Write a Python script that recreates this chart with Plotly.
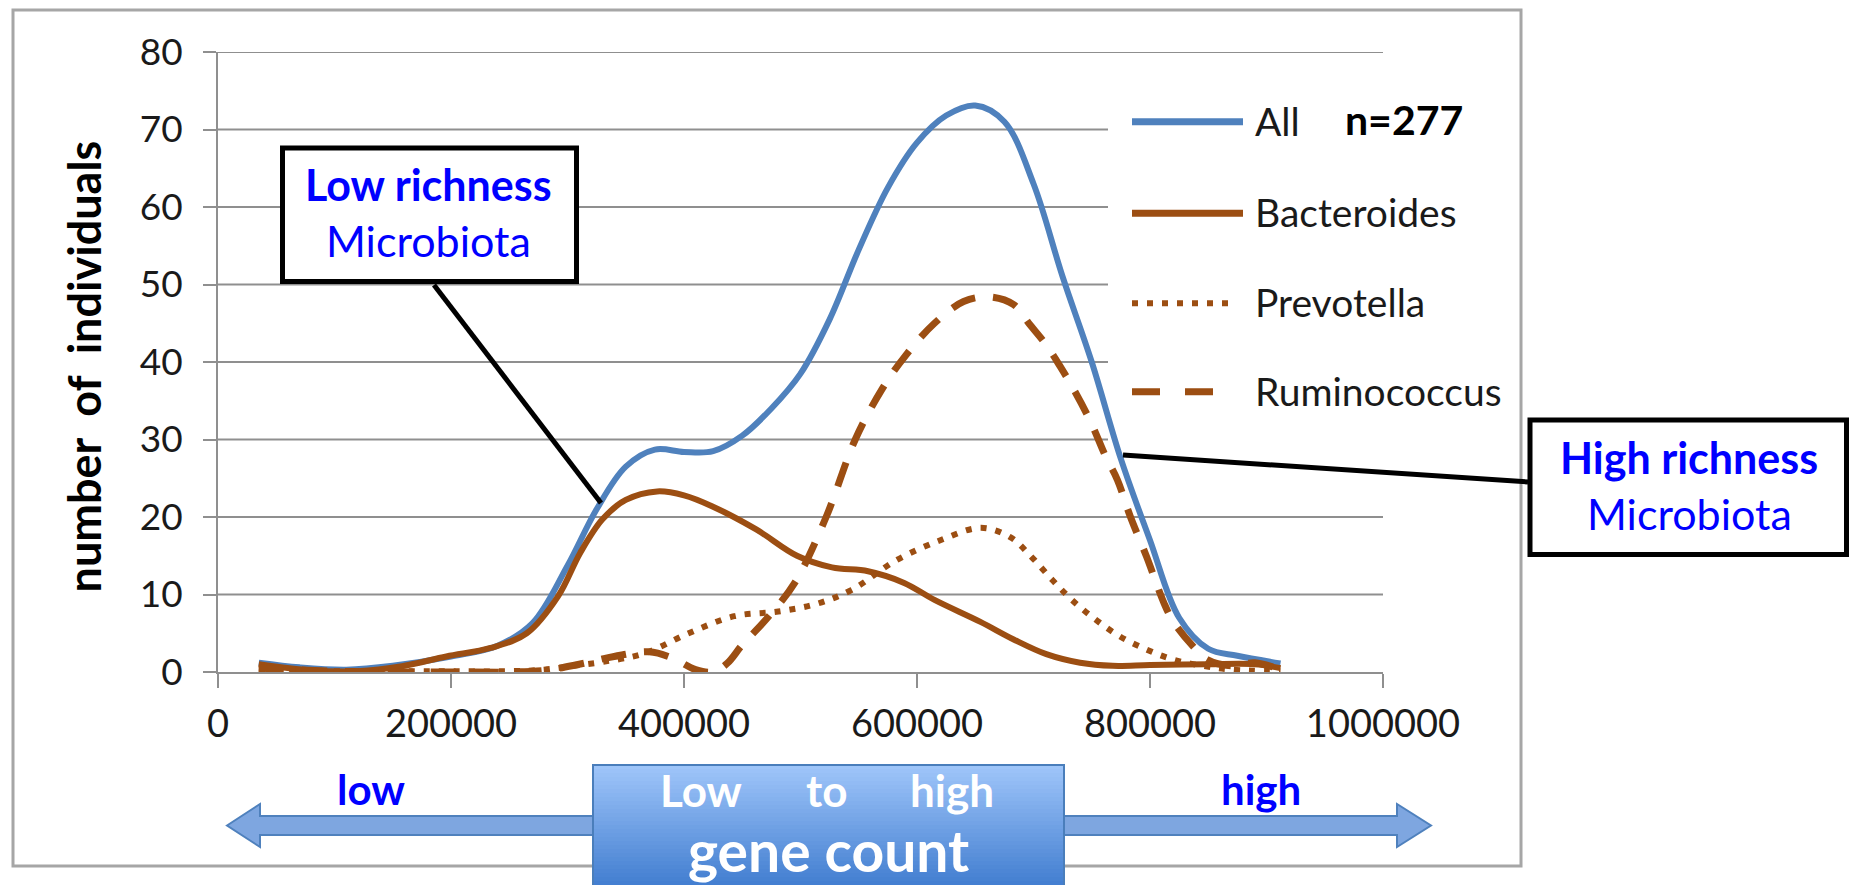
import plotly.graph_objects as go

# ---- data: number of individuals by gene count ----
all_x = [35000, 70000, 110000, 150000, 200000, 240000, 270000, 300000, 325000, 350000,
         375000, 400000, 425000, 450000, 475000, 500000, 525000, 550000, 575000, 600000,
         625000, 650000, 675000, 700000, 725000, 750000, 775000, 800000, 825000, 850000,
         875000, 912000]
all_y = [1.2, 0.6, 0.3, 0.8, 2.0, 3.4, 6.3, 13.7, 21.0, 26.5,
         28.7, 28.4, 28.5, 30.5, 34.0, 38.5, 45.5, 54.5, 62.5, 68.3,
         71.8, 73.1, 71.0, 63.0, 51.0, 40.0, 27.5, 17.0, 7.0, 3.0,
         2.1, 1.1]

bact_x = [35000, 80000, 120000, 158000, 196000, 234000, 265000, 292000, 311000, 330000,
          350000, 377000, 400000, 424000, 462000, 497000, 527000, 558000, 589000, 615000,
          654000, 683000, 711000, 740000, 768000, 800000, 850000, 890000, 912000]
bact_y = [1.0, 0.2, 0.1, 0.75, 2.0, 3.1, 5.0, 9.8, 15.4, 19.7,
          22.2, 23.3, 22.8, 21.4, 18.4, 15.0, 13.5, 13.0, 11.5, 9.3,
          6.5, 4.2, 2.3, 1.2, 0.8, 0.9, 1.0, 1.0, 0.5]

prev_x = [35000, 100000, 150000, 200000, 250000, 280000, 303000, 330000, 366000, 404000,
          443000, 481000, 514000, 544000, 582000, 620000, 655000, 680000, 698000, 716000,
          733000, 753000, 774000, 797000, 820000, 845000, 870000, 912000]
prev_y = [0.3, 0.1, 0.1, 0.1, 0.1, 0.3, 0.75, 1.3, 2.4, 5.0,
          7.2, 7.8, 8.8, 10.6, 14.4, 17.0, 18.6, 17.4, 14.9, 11.9,
          9.3, 6.8, 4.6, 2.9, 1.6, 0.8, 0.3, 0.1]

rum_x = [35000, 100000, 150000, 200000, 250000, 280000, 310000, 340000, 370000, 390000,
         410000, 425000, 437000, 450000, 470000, 495000, 522000, 547000, 570000, 590000,
         615000, 640000, 662000, 683000, 697000, 711000, 723000, 734000, 749000, 762000,
         772000, 783000, 797000, 812000, 820000, 837000, 849000, 870000, 890000, 912000]
rum_y = [0.5, 0.1, 0.0, 0.0, 0.0, 0.2, 1.0, 2.0, 2.6, 1.8,
         0.3, 0.0, 1.1, 3.5, 6.7, 11.5, 20.0, 30.0, 36.5, 40.8,
         45.0, 47.8, 48.4, 47.4, 44.8, 42.2, 39.4, 36.6, 32.3, 27.8,
         24.8, 20.1, 14.9, 8.9, 6.5, 3.3, 1.6, 0.8, 1.2, 0.3]

series_names = ["All", "Bacteroides", "Prevotella", "Ruminococcus"]
x_ticks = [0, 200000, 400000, 600000, 800000, 1000000]
y_ticks = [0, 10, 20, 30, 40, 50, 60, 70, 80]
# grid rows that stop short at the legend panel
legend_rows = [30, 40, 50, 60, 70]

# ---- styling ----
BLUE = "#4F81BD"
BROWN = "#9C4E12"
GRID = "#8f8f8f"
FONT = "Lato"
TEXT_BLUE = "#0000FF"

W, H = 1850, 885
ML, MR, MT, MB = 218, 467, 52, 213
PW = W - ML - MR
PH = H - MT - MB


def px(xp):
    return (xp - ML) / PW


def py(yp):
    return (H - MB - yp) / PH


fig = go.Figure()

styles = [
    dict(color=BLUE, width=6),
    dict(color=BROWN, width=6),
    dict(color=BROWN, width=6, dash="6px,9px"),
    dict(color=BROWN, width=7, dash="25px,18px"),
]
for name, xs, ys, st in zip(series_names, [all_x, bact_x, prev_x, rum_x],
                            [all_y, bact_y, prev_y, rum_y], styles):
    fig.add_trace(go.Scatter(
        x=xs, y=ys, name=name, mode="lines",
        line=dict(shape="spline", smoothing=1.0, **st),
        hoverinfo="skip", showlegend=False,
    ))

shapes = []

# horizontal grid lines (drawn under the curves); the legend panel interrupts some
for v in y_ticks[1:]:
    x_end = px(1108) if v in legend_rows else 1.0
    shapes.append(dict(type="line", xref="x domain", yref="y",
                       x0=0, x1=x_end, y0=v, y1=v, layer="below",
                       line=dict(color=GRID, width=2)))

# legend samples
legend_y = [121.7, 213.3, 303.3, 391.7]
sample_styles = [
    dict(color=BLUE, width=7),
    dict(color=BROWN, width=7),
    dict(color=BROWN, width=6, dash="6px,9px"),
    dict(color=BROWN, width=7, dash="28px,25px"),
]
sample_ends = [1243, 1243, 1229, 1214]
for yy, st, xe in zip(legend_y, sample_styles, sample_ends):
    shapes.append(dict(type="line", xref="paper", yref="paper",
                       x0=px(1132), x1=px(xe), y0=py(yy), y1=py(yy), line=st))

# outer frame
shapes.append(dict(type="rect", xref="paper", yref="paper",
                   x0=px(13), x1=px(1521), y0=py(866), y1=py(10),
                   line=dict(color="#a6a6a6", width=3)))

# callout boxes and pointers
shapes.append(dict(type="rect", xref="paper", yref="paper",
                   x0=px(282.5), x1=px(576.5), y0=py(281.5), y1=py(148),
                   fillcolor="white", line=dict(color="black", width=5)))
shapes.append(dict(type="line", xref="paper", yref="paper",
                   x0=px(434), y0=py(285), x1=px(601), y1=py(503),
                   line=dict(color="black", width=5)))
shapes.append(dict(type="rect", xref="paper", yref="paper",
                   x0=px(1530), x1=px(1846.5), y0=py(554.5), y1=py(420),
                   fillcolor="white", line=dict(color="black", width=5)))
shapes.append(dict(type="line", xref="paper", yref="paper",
                   x0=px(1123), y0=py(455), x1=px(1528), y1=py(482),
                   line=dict(color="black", width=5)))

# double-headed arrow under the axis
arrow_pts = [(227, 825.5), (260, 804), (260, 816), (1397, 816), (1397, 804),
             (1431, 825.5), (1397, 847), (1397, 835), (260, 835), (260, 847)]
path = "M " + " L ".join(f"{px(a):.5f},{py(b):.5f}" for a, b in arrow_pts) + " Z"
shapes.append(dict(type="path", xref="paper", yref="paper", path=path,
                   fillcolor="#7EA6E0", line=dict(color="#4F81BD", width=2)))

# gradient box "Low to high / gene count"
top_rgb, bot_rgb = (160, 198, 250), (66, 126, 208)
n_strips = 30
y_top, y_bot = 765, 885
for i in range(n_strips):
    t = (i + 0.5) / n_strips
    c = tuple(round(a + (b - a) * t) for a, b in zip(top_rgb, bot_rgb))
    ya = y_top + (y_bot - y_top) * i / n_strips
    yb = y_top + (y_bot - y_top) * (i + 1) / n_strips + 0.6
    shapes.append(dict(type="rect", xref="paper", yref="paper",
                       x0=px(593), x1=px(1064), y0=py(yb), y1=py(ya),
                       fillcolor=f"rgb{c}", line=dict(width=0)))
shapes.append(dict(type="rect", xref="paper", yref="paper",
                   x0=px(593), x1=px(1064), y0=py(890), y1=py(765),
                   line=dict(color="#4A7EBB", width=2)))

annotations = []


def label(text, x, y, size, color="black", xanchor="center", angle=0):
    annotations.append(dict(text=text, xref="paper", yref="paper",
                            x=px(x), y=py(y), xanchor=xanchor, yanchor="middle",
                            showarrow=False, textangle=angle,
                            font=dict(family=FONT, size=size, color=color)))


# legend texts
for name, yy in zip(series_names, legend_y):
    label(name, 1253, yy - 1, 39, "#1a1a1a", xanchor="left")
label("<b>n=277</b>", 1343, 120, 41, "black", xanchor="left")

# axis title
label("<b>number\u00a0\u00a0of\u00a0\u00a0individuals</b>", 83, 366.5, 45, "black", angle=-90)

# callout texts
label("<b>Low richness</b>", 428, 184, 43, TEXT_BLUE)
label("Microbiota", 428, 240, 43, TEXT_BLUE)
label("<b>High richness</b>", 1689, 457, 43, TEXT_BLUE)
label("Microbiota", 1689, 513, 43, TEXT_BLUE)

# gene-count direction labels
label("<b>low</b>", 371, 788.6, 42, TEXT_BLUE)
label("<b>high</b>", 1261, 788.6, 42, TEXT_BLUE)
label("<b>Low</b>", 701, 790, 44, "white")
label("<b>to</b>", 826, 790, 44, "white")
label("<b>high</b>", 952.5, 790, 44, "white")
label("<b>gene count</b>", 828.6, 850, 57, "white")

fig.update_layout(
    width=W, height=H,
    margin=dict(l=ML, r=MR, t=MT, b=MB, autoexpand=False),
    paper_bgcolor="white", plot_bgcolor="white",
    showlegend=False,
    shapes=shapes, annotations=annotations,
    font=dict(family=FONT),
)
fig.update_xaxes(
    range=[0, 1000000], tickvals=x_ticks, tickformat="d",
    showgrid=False, zeroline=False,
    showline=True, linecolor=GRID, linewidth=2,
    ticks="outside", ticklen=14, tickwidth=2, tickcolor=GRID,
    tickfont=dict(family=FONT, size=38, color="#1a1a1a"),
    ticklabelstandoff=3,
)
fig.update_yaxes(
    range=[0, 80], tickvals=y_ticks,
    showgrid=False, zeroline=False,
    showline=True, linecolor=GRID, linewidth=2,
    ticks="outside", ticklen=13, tickwidth=2, tickcolor=GRID,
    tickfont=dict(family=FONT, size=37, color="#1a1a1a"),
    ticklabelstandoff=13,
)

fig.write_html("out.html")
